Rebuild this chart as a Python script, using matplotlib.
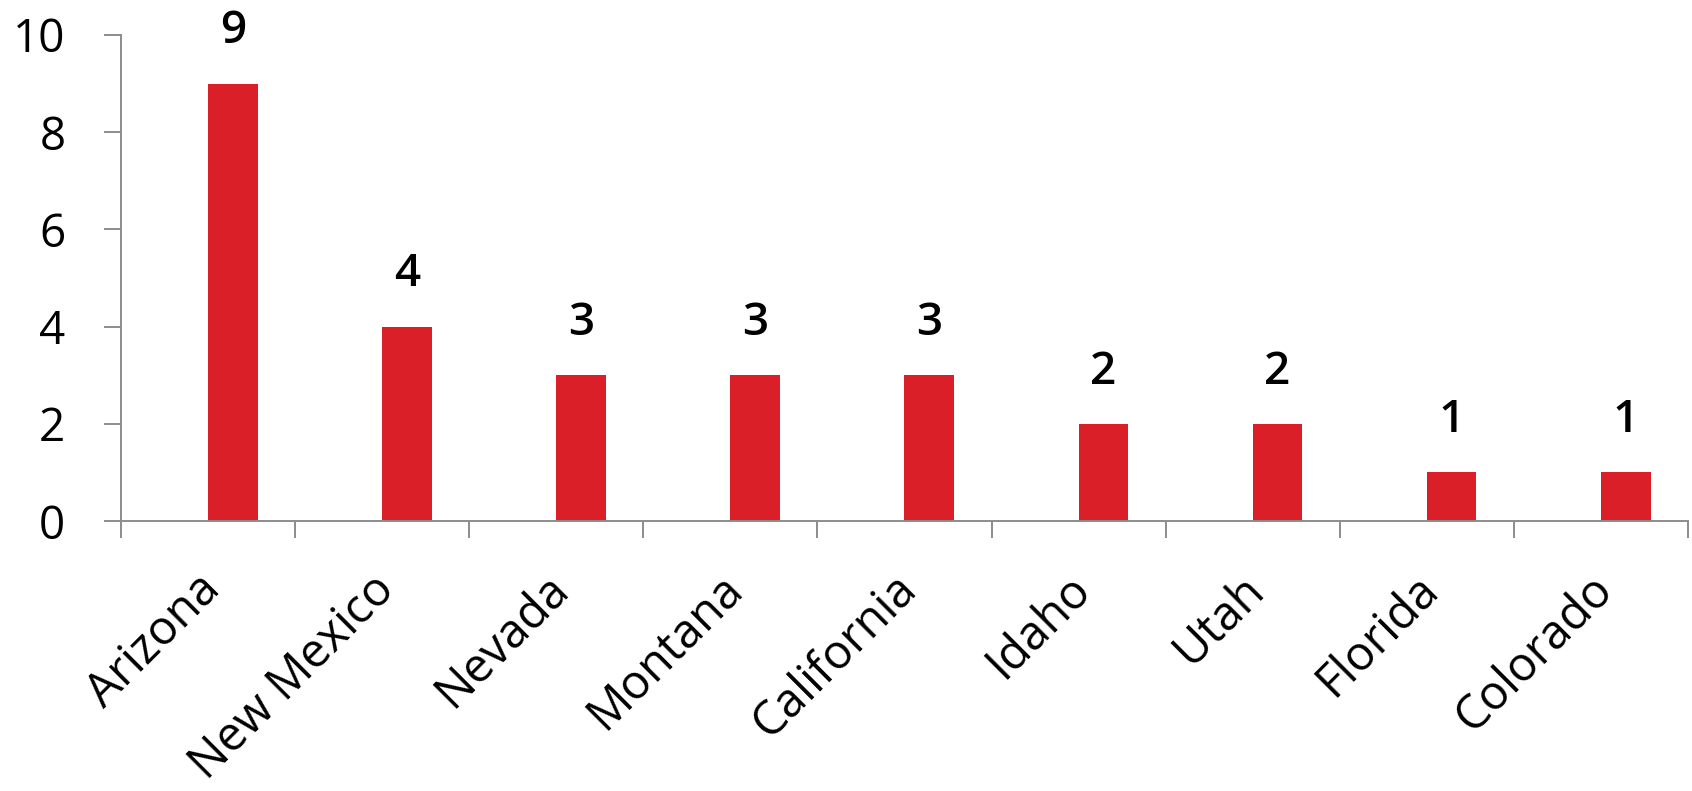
import matplotlib.pyplot as plt
import matplotlib.transforms as mtransforms

# Datos del grafico
estados = ["Arizona", "New Mexico", "Nevada", "Montana", "California",
           "Idaho", "Utah", "Florida", "Colorado"]
valores = [9, 4, 3, 3, 3, 2, 2, 1, 1]

plt.rcParams['font.family'] = ['Open Sans', 'DejaVu Sans']
gris = "#8c8c8c"
rojo = "#da1f28"

fig = plt.figure(figsize=(16.92, 7.91), dpi=100)
ax = fig.add_axes([0.0715, 0.3413, 0.9261, 0.6145])

pos = list(range(len(estados)))
barras = ax.bar(pos, valores, width=0.285, align='edge', color=rojo)

# etiquetas de valor sobre las barras
for p, v in zip(pos, valores):
    ax.annotate(str(v), (p + 0.1425, v), xytext=(0, 21), textcoords='offset points',
                ha='center', va='bottom', fontsize=33, fontweight='semibold')

ax.set_xlim(-0.5, len(estados) - 0.5)
ax.set_ylim(0, 10)
ax.set_yticks([0, 2, 4, 6, 8, 10])

# marcas del eje x en los limites de categoria
ax.set_xticks([p - 0.5 for p in pos] + [len(estados) - 0.5], minor=True)
ax.set_xticks(pos)
ax.set_xticklabels(estados, rotation=45, ha='right', va='top',
                   rotation_mode='anchor', fontsize=34)
ax.tick_params(axis='x', which='major', length=0, pad=32)
ax.tick_params(axis='x', which='minor', length=12, width=1.4, color=gris)
ax.tick_params(axis='y', length=12, width=1.4, color=gris, pad=28, labelsize=33)

desp = mtransforms.ScaledTranslation(-0.12, 0, fig.dpi_scale_trans)
for lab in ax.get_xticklabels():
    lab.set_transform(lab.get_transform() + desp)

for s in ["top", "right"]:
    ax.spines[s].set_visible(False)
for s in ["left", "bottom"]:
    ax.spines[s].set_color(gris)
    ax.spines[s].set_linewidth(1.4)

fig.savefig("out.png", dpi=100)
